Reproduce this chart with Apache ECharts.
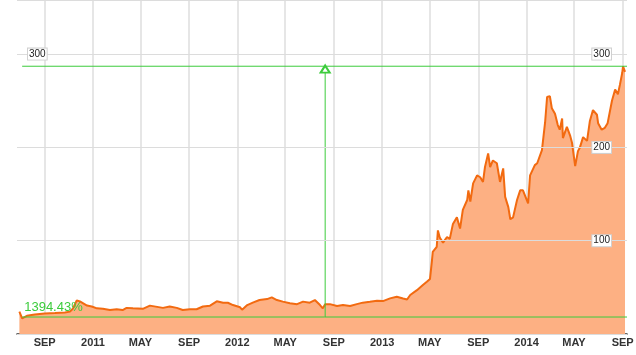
<!DOCTYPE html>
<html>
<head>
<meta charset="utf-8">
<script src="https://cdn.jsdelivr.net/npm/echarts@6/dist/echarts.min.js"></script>
<style>
  html, body { margin: 0; padding: 0; background: #fff; }
  #chart { width: 636px; height: 355px; }
</style>
</head>
<body>
<div id="chart"></div>
<script>
// closing prices
var dates = [
  '2010-06-29', '2010-07-06', '2010-07-18', '2010-08-07', '2010-09-01', '2010-09-27', '2010-10-22', '2010-11-04', '2010-11-11', '2010-11-21', '2010-11-29', '2010-12-17', '2010-12-29',
  '2011-01-11', '2011-01-26', '2011-02-13', '2011-03-02', '2011-03-17', '2011-03-27', '2011-04-12', '2011-05-07', '2011-05-25', '2011-06-27', '2011-07-14', '2011-08-01', '2011-08-16', '2011-09-03', '2011-09-20', '2011-10-06', '2011-10-24', '2011-11-10', '2011-11-26', '2011-12-08', '2011-12-21',
  '2012-01-08', '2012-01-13', '2012-01-26', '2012-02-09', '2012-02-26', '2012-03-16', '2012-03-28', '2012-04-10', '2012-04-25', '2012-05-13', '2012-05-31', '2012-06-15', '2012-07-02', '2012-07-15', '2012-07-28', '2012-08-04', '2012-08-10', '2012-08-22', '2012-09-09', '2012-09-24', '2012-10-12', '2012-10-29', '2012-11-13', '2012-12-01', '2012-12-19',
  '2013-01-03', '2013-01-21', '2013-02-07', '2013-02-23', '2013-03-05', '2013-03-13', '2013-03-30', '2013-04-14', '2013-04-24', '2013-05-02', '2013-05-07', '2013-05-09', '2013-05-19', '2013-05-22', '2013-05-27', '2013-06-04', '2013-06-14', '2013-06-21', '2013-06-29', '2013-07-09', '2013-07-17', '2013-07-24', '2013-08-04', '2013-08-07', '2013-08-12', '2013-08-19', '2013-08-29', '2013-09-06', '2013-09-13', '2013-09-18', '2013-09-26', '2013-10-01', '2013-10-08', '2013-10-18', '2013-10-26', '2013-11-03', '2013-11-08', '2013-11-16', '2013-11-21', '2013-11-28', '2013-12-08', '2013-12-16', '2013-12-23',
  '2014-01-05', '2014-01-10', '2014-01-15', '2014-01-22', '2014-01-28', '2014-01-30', '2014-02-09', '2014-02-17', '2014-02-22', '2014-03-01', '2014-03-06', '2014-03-14', '2014-03-21', '2014-03-26', '2014-04-01', '2014-04-03', '2014-04-08', '2014-04-13', '2014-04-21', '2014-04-26', '2014-05-04', '2014-05-11', '2014-05-16', '2014-05-24', '2014-06-03', '2014-06-10', '2014-06-18', '2014-06-23', '2014-06-28', '2014-07-01', '2014-07-05', '2014-07-10', '2014-07-13', '2014-07-18', '2014-07-25', '2014-08-05', '2014-08-13', '2014-08-20', '2014-08-25', '2014-08-31', '2014-09-02', '2014-09-07'
]
var prices = [
  24, 16.8, 19.5, 21, 22, 22.5, 23, 24, 27, 36, 35, 30.5, 29.5,
  27.5, 27, 25.7, 26.5, 25.7, 28, 27.5, 27, 30.4, 28, 29.5, 28, 25.7, 26.5, 26.5, 29.5, 30.4, 35, 33.5, 33.5, 31,
  28.6, 26, 31, 33.6, 36.4, 37.4, 39.3, 36.4, 34.7, 33, 32, 34.7, 33.6, 36.4, 31, 27.5, 32, 32, 30, 31, 30, 32, 33.6, 34.6, 35.7,
  35.3, 38.2, 40, 38, 37, 41.8, 47, 52.5, 56, 59, 79, 88, 93.5, 111, 103, 98, 104, 102, 118, 125, 113, 133, 143.6, 154, 142, 161.5, 170, 168, 163, 179, 193.6, 179, 186, 183, 163, 177.5, 147, 136, 123, 125, 143.6, 154, 154,
  140, 170, 168, 181, 183, 181, 197, 227, 254, 255, 242, 236, 224, 219, 231, 210, 208, 222, 213, 205, 180, 196, 200, 211, 207, 228, 240, 240, 235, 226, 224, 219, 220, 221, 226, 250, 262, 257, 267, 280, 287, 281
]

// x axis ticks
var tickDates = ['2010-09-01', '2011-01-01', '2011-05-01', '2011-09-01', '2012-01-01', '2012-05-01', '2012-09-01', '2013-01-01', '2013-05-01', '2013-09-01', '2014-01-01', '2014-05-01', '2014-09-01']
var tickLabels = ['SEP', '2011', 'MAY', 'SEP', '2012', 'MAY', 'SEP', '2013', 'MAY', 'SEP', '2014', 'MAY', 'SEP']
var rightLabels = [100, 200, 300]
var leftLabels = [300]

// measurement overlay (green)
var lowLevel = 18.2
var highLevel = 287
var measureFrom = '2010-07-06'
var measureAt = '2012-08-10'
var gainText = '1394.43%'

var xMin = '2010-06-23'
var xMax = '2014-09-12'

function toTime (s) {
  return new Date(s + 'T00:00:00').getTime()
}

var tickTimes = tickDates.map(toTime)
var seriesData = dates.map(function (d, i) { return [toTime(d), prices[i]] })

var green = '#3ccc3c'
var labelBox = {
  color: '#222',
  fontFamily: 'Liberation Sans, Arial, sans-serif',
  fontSize: 10,
  backgroundColor: '#fff',
  borderColor: '#d0d0d0',
  borderWidth: 1,
  padding: [1, 1, 0, 1]
}

// a two point green line used for the measuring overlay
function overlay (points) {
  return {
    type: 'line',
    z: 4,
    silent: true,
    data: points,
    symbol: 'none',
    showSymbol: true,
    lineStyle: { color: green, width: 1 },
    itemStyle: { color: green, borderWidth: 1.2 }
  }
}

var chart = echarts.init(document.getElementById('chart'), null, { renderer: 'canvas' })
chart.setOption({
  animation: false,
  backgroundColor: '#fff',
  grid: {
    left: 17,
    right: 9,
    top: 0,
    bottom: 21,
    outerBoundsMode: 'none'
  },
  xAxis: {
    // plain value axis holding timestamps, so the month ticks can be set by hand
    type: 'value',
    min: toTime(xMin),
    max: toTime(xMax),
    axisLine: { lineStyle: { color: '#333', width: 1.5 } },
    axisTick: { show: false, customValues: tickTimes },
    splitLine: { show: true, lineStyle: { color: '#e6e6e6', width: 2 } },
    axisLabel: {
      customValues: tickTimes,
      margin: 3,
      color: '#333',
      fontFamily: 'Liberation Sans Narrow, Arial Narrow, sans-serif',
      fontWeight: 'bold',
      fontSize: 11,
      formatter: function (val) {
        var i = tickTimes.indexOf(val)
        return i >= 0 ? tickLabels[i] : ''
      }
    }
  },
  yAxis: [{
    type: 'value',
    position: 'right',
    z: 5,
    min: 0,
    max: 358,
    interval: 100,
    axisLine: { show: false },
    axisTick: { show: false },
    splitLine: { lineStyle: { color: '#dcdcdc', width: 1 } },
    axisLabel: Object.assign({
      inside: true,
      margin: 16,
      customValues: rightLabels
    }, labelBox)
  }, {
    type: 'value',
    position: 'left',
    z: 5,
    min: 0,
    max: 358,
    interval: 100,
    axisLine: { show: false },
    axisTick: { show: false },
    splitLine: { show: false },
    axisLabel: Object.assign({
      inside: true,
      margin: 11,
      customValues: leftLabels
    }, labelBox)
  }],
  series: [
    {
      type: 'line',
      yAxisIndex: 0,
      data: seriesData,
      symbol: 'none',
      lineStyle: { color: '#f26a10', width: 2 },
      itemStyle: { color: '#f26a10' },
      areaStyle: { color: '#fdb083', opacity: 1 }
    },
    overlay([
      {
        value: [toTime(measureFrom), lowLevel],
        symbol: 'circle',
        symbolSize: 0.1,
        label: {
          show: true,
          position: 'right',
          distance: 2,
          offset: [0, -10],
          formatter: gainText,
          color: green,
          fontFamily: 'Liberation Sans, Arial, sans-serif',
          fontSize: 13
        }
      },
      [toTime(xMax), lowLevel]
    ]),
    overlay([[toTime(measureFrom), highLevel], [toTime(xMax), highLevel]]),
    overlay([
      [toTime(measureAt), lowLevel],
      { value: [toTime(measureAt), highLevel - 3], symbol: 'emptyTriangle', symbolSize: [9, 7] }
    ])
  ]
})
</script>
</body>
</html>
